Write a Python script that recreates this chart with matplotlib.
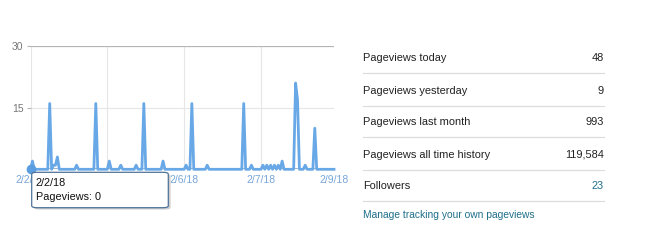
import numpy as np
import matplotlib.pyplot as plt
from matplotlib.patches import FancyBboxPatch, Rectangle
from matplotlib.lines import Line2D

plt.rcParams['font.family'] = ['Liberation Sans', 'DejaVu Sans']

# hourly pageviews, mostly zero; only the non-zero points are listed
n_points = 159
hit_idx = [1, 10, 12, 13, 14, 24, 34, 41, 47, 55, 59, 69, 81, 84, 92,
           111, 115, 121, 123, 125, 127, 129, 131, 138, 139, 143, 148]
hit_val = [2, 16, 1, 1, 3, 1, 16, 2, 1, 1, 16, 2, 1, 16, 1,
           16, 1, 1, 1, 1, 1, 1, 2, 21, 17, 1, 10]

# the label at 40 sits under the tooltip in the original
xtick_pos = [0, 40, 80, 120, 158]
xtick_lab = ['2/2/18', '', '2/6/18', '2/7/18', '2/9/18']
ytick_pos = [15, 30]

stat_names = ['Pageviews today', 'Pageviews yesterday', 'Pageviews last month',
              'Pageviews all time history', 'Followers']
stat_values = ['48', '9', '993', '119,584', '23']
link_text = 'Manage tracking your own pageviews'

tip_date = '2/2/18'
tip_value = 0

views = np.zeros(n_points)
views[hit_idx] = hit_val
hours = np.arange(n_points)

W, H = 653, 241
fig = plt.figure(figsize=(W / 100, H / 100), dpi=100)


def fx(px):
    return px / W


def fy(py):
    return 1 - py / H


ax = fig.add_axes([fx(30.5), fy(169.3), fx(334) - fx(30.5), fy(46) - fy(169.3)])
ax.set_xlim(0, 158)
ax.set_ylim(0, 30)

for x in xtick_pos[:-1]:
    ax.axvline(x, color='#e6e6e6', lw=0.8, zorder=0)
ax.axhline(15, color='#e6e6e6', lw=0.8, zorder=0)
ax.axhline(30, color='#b5b5b5', lw=0.9, zorder=0)

ax.plot(hours, views, color='#68a8e6', lw=2.0, clip_on=False, zorder=3,
        solid_joinstyle='round')
ax.axhline(0, color='#9db6cc', lw=1.4, zorder=2)
ax.plot([0], [tip_value], 'o', color='#5b9ee0', ms=6, clip_on=False, zorder=4)

for s in ax.spines.values():
    s.set_visible(False)
ax.set_yticks(ytick_pos)
ax.set_yticklabels([str(v) for v in ytick_pos])
ax.tick_params(axis='y', length=3, width=0.8, color='#b5b5b5', colors='#777777',
               labelsize=7.5, pad=2)
ax.set_xticks(xtick_pos)
ax.set_xticklabels(xtick_lab)
ax.tick_params(axis='x', length=0, colors='#77a6d8', labelsize=7.5, pad=4)

# first date label is cut off by the tooltip's left edge
cut = Rectangle((0, 0), fx(31.7), 1, transform=fig.transFigure)
first = ax.xaxis.get_major_ticks()[0].label1
first.set_clip_on(True)
first.set_clip_path(cut)

# tooltip
shadow = FancyBboxPatch((fx(34), fy(209.5)), fx(168.3) - fx(31.7), fy(172.3) - fy(207.7),
                        boxstyle='round,pad=0,rounding_size=0.008',
                        transform=fig.transFigure, fc='#cfcfcf', ec='none', zorder=9)
fig.patches.append(shadow)
tip = FancyBboxPatch((fx(31.7), fy(207.7)), fx(168.3) - fx(31.7), fy(172.3) - fy(207.7),
                     boxstyle='round,pad=0,rounding_size=0.008',
                     transform=fig.transFigure, fc='white', ec='#4f7398', lw=0.9,
                     zorder=10)
fig.patches.append(tip)
fig.text(fx(36), fy(183), tip_date, fontsize=7.8, color='#111111', va='center',
         zorder=11)
fig.text(fx(36), fy(197.5), 'Pageviews: %d' % tip_value, fontsize=7.8,
         color='#111111', va='center', zorder=11)

# stats table
row_y = [58.3, 90.5, 122.3, 154.5, 186.3]
for i, (name, val) in enumerate(zip(stat_names, stat_values)):
    y = row_y[i]
    fig.text(fx(363), fy(y), name, fontsize=7.9, color='#222222', va='center')
    fig.text(fx(604), fy(y), val, fontsize=7.9, va='center', ha='right',
             color='#1f6f8b' if name == 'Followers' else '#222222')
    fig.add_artist(Line2D([fx(363), fx(604)], [fy(y + 15), fy(y + 15)],
                          transform=fig.transFigure, color='#dddddd', lw=0.9))
fig.text(fx(363), fy(215.5), link_text, fontsize=7.4, color='#1f6f8b', va='center')

fig.savefig('out.png', dpi=100)
